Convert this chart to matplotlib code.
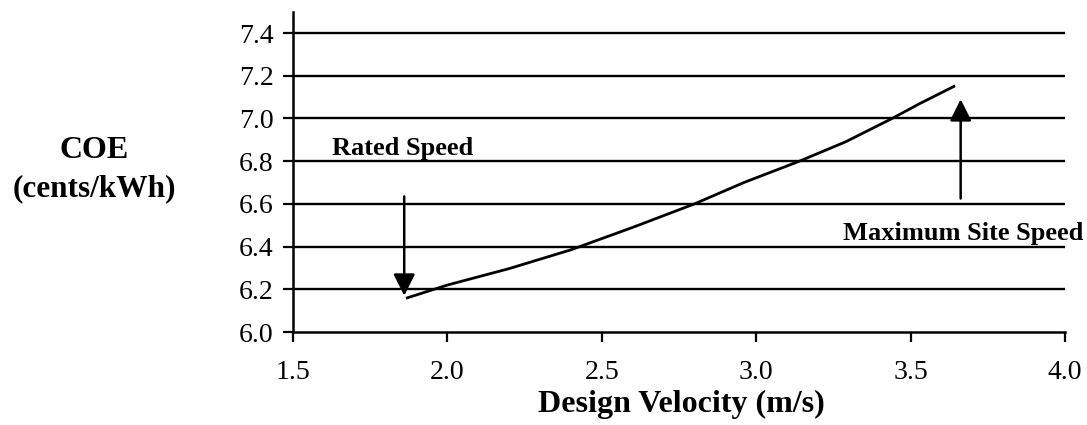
import matplotlib
matplotlib.use("Agg")
import matplotlib.pyplot as plt

# COE vs design velocity
velocity = [1.87, 2.0, 2.2, 2.4, 2.6, 2.8, 2.96, 3.14, 3.29, 3.44, 3.53, 3.64]
coe = [6.16, 6.22, 6.297, 6.385, 6.49, 6.60, 6.70, 6.80, 6.891, 7.00, 7.07, 7.15]

xticks = [1.5, 2.0, 2.5, 3.0, 3.5, 4.0]
yticks = [6.0, 6.2, 6.4, 6.6, 6.8, 7.0, 7.2, 7.4]

plt.rcParams['font.family'] = ['Liberation Serif', 'DejaVu Serif']

fig = plt.figure(figsize=(10.87, 4.25), dpi=100)
ax = fig.add_axes([0.2696, 0.2188, 0.9798 - 0.2696, 0.9725 - 0.2188])

ax.plot(velocity, coe, color='black', lw=2.0, clip_on=False)

ax.set_xlim(1.5, 4.0)
ax.set_ylim(6.0, 7.5)
ax.set_xticks(xticks)
ax.set_yticks(yticks)
ax.set_xticklabels(['%.1f' % v for v in xticks])
ax.set_yticklabels(['%.1f' % v for v in yticks])
ax.tick_params(axis='both', labelsize=20, width=1.6, length=7, direction='out')
ax.tick_params(axis='y', pad=7)
ax.tick_params(axis='x', pad=13)

for s in ['top', 'right']:
    ax.spines[s].set_visible(False)
for s in ['left', 'bottom']:
    ax.spines[s].set_linewidth(1.8)

for y in yticks[1:]:
    ax.axhline(y, color='black', lw=1.7, zorder=0)

fig.text(0.6265, 1 - 412 / 425, 'Design Velocity (m/s)', fontsize=23, fontweight='bold',
         ha='center', va='baseline')
fig.text(0.0865, 0.645, 'COE', fontsize=23, fontweight='bold', ha='center', va='center')
fig.text(0.0865, 0.557, '(cents/kWh)', fontsize=22.5, fontweight='bold', ha='center', va='center')

# annotations
arrow = dict(arrowstyle='-|>,head_length=0.6,head_width=0.3', color='black', lw=1.8,
             mutation_scale=22, shrinkA=0, shrinkB=0)
ax.annotate('', xy=(1.86, 6.17), xytext=(1.86, 6.635), arrowprops=arrow)
ax.text(1.625, 6.86, 'Rated Speed', fontsize=19, fontweight='bold', ha='left', va='center')

ax.annotate('', xy=(3.662, 7.09), xytext=(3.662, 6.625), arrowprops=arrow)
ax.text(3.28, 6.463, 'Maximum Site Speed', fontsize=19, fontweight='bold',
        ha='left', va='center', clip_on=False)

fig.savefig('out.png', dpi=100)
